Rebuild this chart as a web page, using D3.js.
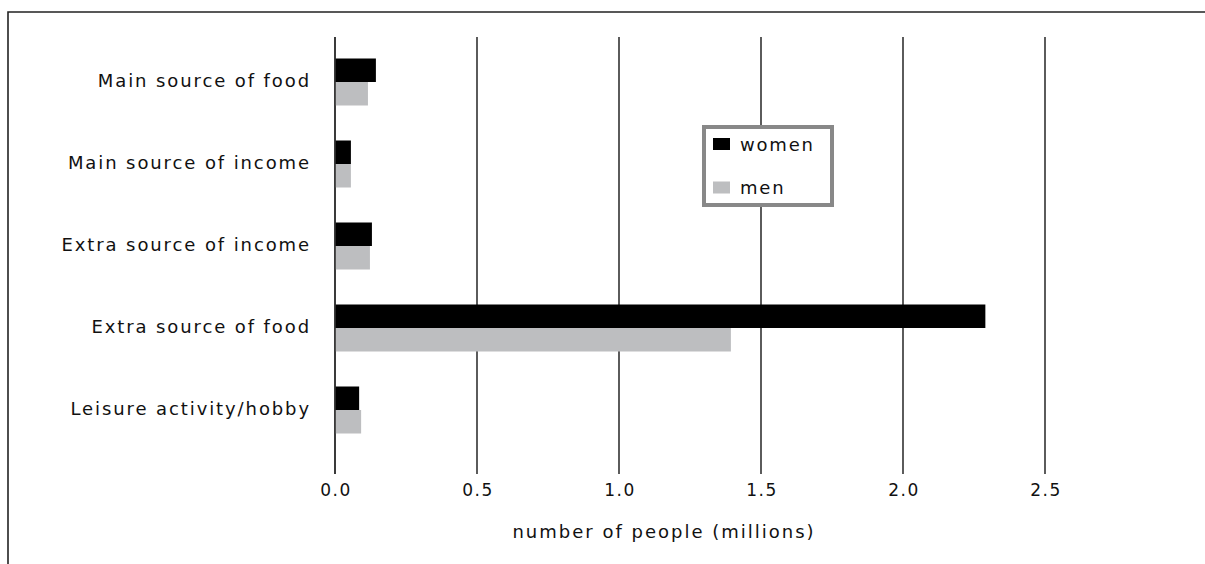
<!DOCTYPE html>
<html><head><meta charset="utf-8">
<script src="https://cdn.jsdelivr.net/npm/d3@7"></script>
<style>body{margin:0;background:#fff}svg{display:block}text{font-family:"DejaVu Sans",sans-serif;fill:#111}</style>
</head><body>
<script>
const categories = ["Main source of food","Main source of income","Extra source of income","Extra source of food","Leisure activity/hobby"];
const seriesNames = ["women","men"];
const women = [0.144, 0.056, 0.13, 2.29, 0.085];
const men = [0.116, 0.056, 0.123, 1.394, 0.092];
const tickValues = [0, 0.5, 1.0, 1.5, 2.0, 2.5];
const colors = {women:"#000000", men:"#bdbec0"};

const W=1205,H=564;
const svg=d3.select("body").append("svg").attr("width",W).attr("height",H);

// frame
svg.append("path").attr("d",`M8,${H} L8,12 L${W},12`).attr("fill","none").attr("stroke","#222").attr("stroke-width",1.6);

const x=d3.scaleLinear().domain([0,2.5]).range([335,1045]);
const y=d3.scaleBand().domain(categories).range([41,451]).padding(0);
const sub=d3.scaleBand().domain(seriesNames).range([17.5,64.5]).padding(0);

const gridTop=37, gridBot=474;
svg.append("g").selectAll("line").data(tickValues).join("line")
  .attr("x1",d=>x(d)).attr("x2",d=>x(d)).attr("y1",gridTop).attr("y2",gridBot)
  .attr("stroke","#333").attr("stroke-width",1.6);

const data=categories.map((c,i)=>({c,vals:[{s:"women",v:women[i]},{s:"men",v:men[i]}]}));
const g=svg.append("g").selectAll("g").data(data).join("g").attr("transform",d=>`translate(0,${y(d.c)})`);
g.selectAll("rect").data(d=>d.vals).join("rect")
  .attr("x",x(0)).attr("y",d=>sub(d.s)).attr("width",d=>x(d.v)-x(0)).attr("height",sub.bandwidth())
  .attr("fill",d=>colors[d.s]);

svg.append("line").attr("x1",x(0)).attr("x2",x(0)).attr("y1",gridTop).attr("y2",gridBot).attr("stroke","#333").attr("stroke-width",1.6);

// category labels
svg.append("g").selectAll("text").data(categories).join("text")
  .attr("x",311).attr("y",d=>y(d)+y.bandwidth()/2-2).attr("text-anchor","end").attr("dominant-baseline","central")
  .attr("font-size",18).attr("letter-spacing",1.9).text(d=>d);

// tick labels
svg.append("g").selectAll("text").data(tickValues).join("text")
  .attr("x",d=>x(d)+1).attr("y",490).attr("text-anchor","middle").attr("dominant-baseline","central")
  .attr("font-size",17).attr("letter-spacing",1.5).text(d=>d3.format(".1f")(d));

svg.append("text").attr("x",664).attr("y",531).attr("text-anchor","middle").attr("dominant-baseline","central")
  .attr("font-size",18).attr("letter-spacing",2).text("number of people (millions)");

// legend
const lg=svg.append("g");
lg.append("rect").attr("x",704).attr("y",127).attr("width",128).attr("height",78).attr("fill","#fff").attr("stroke","#888").attr("stroke-width",4);
seriesNames.forEach((s,i)=>{
  const yy=144+i*43.5;
  lg.append("rect").attr("x",713).attr("y",yy-6).attr("width",17).attr("height",12).attr("fill",colors[s]);
  lg.append("text").attr("x",740).attr("y",yy).attr("dominant-baseline","central").attr("font-size",18).attr("letter-spacing",1.8).text(s);
});
</script>
</body></html>
